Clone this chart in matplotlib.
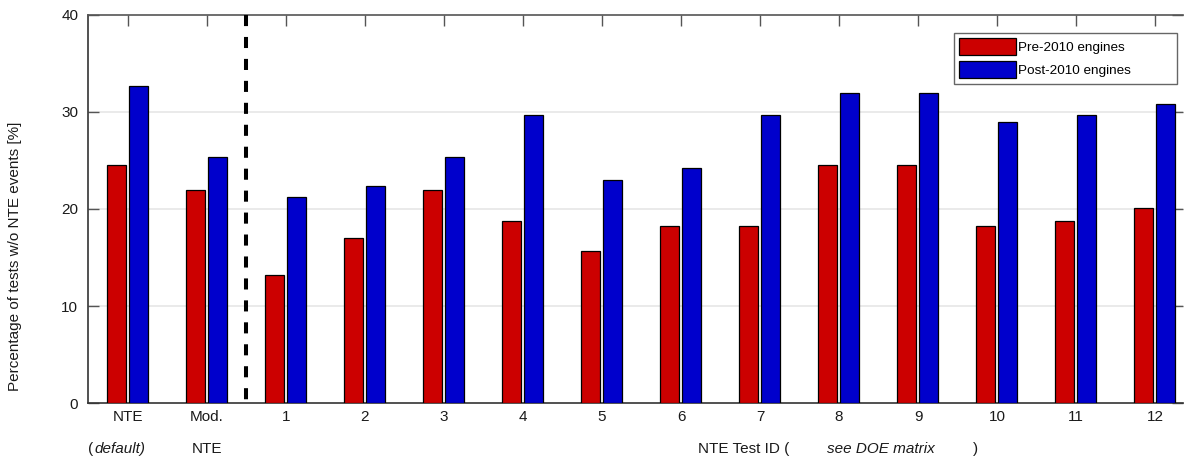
import matplotlib
matplotlib.use("Agg")
import matplotlib.pyplot as plt
import numpy as np

plt.rcParams['font.family'] = ['Liberation Sans', 'DejaVu Sans']

categories = ["NTE", "Mod.", "1", "2", "3", "4", "5", "6", "7", "8", "9", "10", "11", "12"]
second_row = ["", "NTE", "", "", "", "", "", "", "", "", "", "", "", ""]
pre2010 = [24.5, 22.0, 13.2, 17.0, 22.0, 18.8, 15.7, 18.2, 18.2, 24.5, 24.5, 18.2, 18.8, 20.1]
post2010 = [32.7, 25.4, 21.2, 22.4, 25.4, 29.7, 23.0, 24.2, 29.7, 32.0, 32.0, 29.0, 29.7, 30.8]
series_names = ["Pre-2010 engines", "Post-2010 engines"]
y_ticks = [0, 10, 20, 30, 40]

red = "#CC0000"
blue = "#0000CC"
FS = 11

fig = plt.figure(figsize=(11.91, 4.61), dpi=100)
ax = fig.add_axes([88/1191, 58/461, 1095/1191, 388/461])

x = np.arange(len(categories))
w = 0.24
ax.bar(x - 0.147, pre2010, width=w, color=red, edgecolor="black", linewidth=0.9, label=series_names[0], zorder=3)
ax.bar(x + 0.135, post2010, width=w, color=blue, edgecolor="black", linewidth=0.9, label=series_names[1], zorder=3)

ax.set_xlim(-0.506, 13.354)
ax.set_ylim(0, 40)
ax.set_yticks(y_ticks)
ax.set_xticks(x)
ax.set_xticklabels(categories, fontsize=FS, color="#1a1a1a")
ax.set_yticklabels([str(v) for v in y_ticks], fontsize=FS, color="#1a1a1a")

for g in [10, 20, 30]:
    ax.axhline(g, color="#e6e6e6", linewidth=1.2, zorder=0)

ax.plot([1.5, 1.5], [40, 0], color="black", linestyle=(0, (2.75, 2.7)), linewidth=2.9,
        zorder=4, solid_capstyle="butt", dash_capstyle="butt", clip_on=False)

ax.tick_params(axis="x", top=True, bottom=False, direction="in", length=8, width=1,
               color="#555555", labelbottom=True, pad=5)
ax.tick_params(axis="y", left=True, right=True, direction="in", length=8, width=1,
               color="#555555", labelright=False, pad=7)

ax.spines["right"].set_visible(False)
ax.spines["top"].set_color("#555555")
ax.spines["left"].set_color("#333333")
ax.spines["bottom"].set_color("#333333")
for s in ax.spines.values():
    s.set_linewidth(1.2)

trans = ax.get_xaxis_transform()
ysec = -0.118
for i, t in enumerate(second_row):
    if t:
        ax.text(x[i], ysec, t, transform=trans, ha="center", va="center", fontsize=FS, color="#1a1a1a")
# "( default)"
ax.text(-0.5, ysec, "(", transform=trans, ha="left", va="center", fontsize=FS, color="#1a1a1a")
ax.text(-0.42, ysec, "default)", transform=trans, ha="left", va="center", fontsize=FS,
        style="italic", color="#1a1a1a")
# "NTE Test ID ( see DOE matrix )"
ax.text((698 - 88) / 79 - 0.506, ysec, "NTE Test ID (", transform=trans, ha="left", va="center",
        fontsize=FS, color="#1a1a1a")
ax.text((827 - 88) / 79 - 0.506, ysec, "see DOE matrix", transform=trans, ha="left", va="center",
        fontsize=FS, style="italic", color="#1a1a1a")
ax.text((973 - 88) / 79 - 0.506, ysec, ")", transform=trans, ha="left", va="center",
        fontsize=FS, color="#1a1a1a")

fig.text(15/1191, 1 - 256/461, "Percentage of tests w/o NTE events [%]", rotation=90,
         ha="center", va="center", fontsize=FS, color="#1a1a1a")

lx0 = (954 - 88) / 1095
lw = (1177 - 954) / 1095
ltop = (403 - 33) / 388
lh = 54 / 388
leg = ax.legend(loc="upper left", bbox_to_anchor=(lx0, ltop - lh, lw, lh), mode="expand",
                fontsize=9.7, frameon=True, fancybox=False, edgecolor="#666666", framealpha=1,
                handlelength=4.2, handleheight=1.55, handletextpad=0.15,
                borderpad=0.4, labelspacing=0.45, borderaxespad=0)
leg.get_frame().set_linewidth(1.0)

fig.savefig("out.png", dpi=100)
